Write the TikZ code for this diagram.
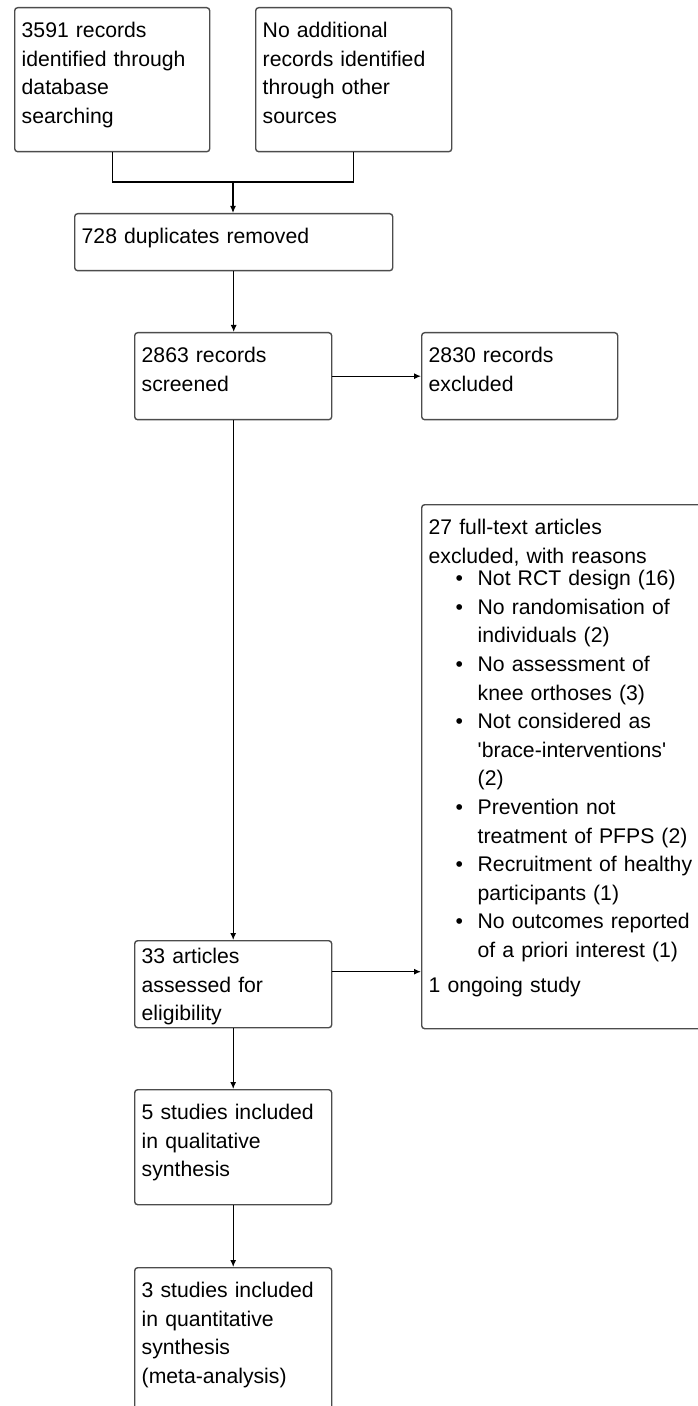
\documentclass[tikz,border=0pt]{standalone}
\usepackage{fontspec}
\setmainfont{Liberation Sans}
\usetikzlibrary{arrows.meta}
\newcommand{\bul}{\makebox[24.5pt][l]{\hspace{13.5pt}\textbullet}}
\newcommand{\ind}{\hspace*{24.5pt}}

\begin{document}
\begin{tikzpicture}[x=0.5pt, y=-0.5pt, >={Latex[length=3.5pt,width=3pt]},
    box/.style={draw=black!70, line width=0.7pt, rounded corners=1.5pt, anchor=north west,
      inner xsep=3.5pt, inner ysep=0pt, align=left, text height=15pt,
      font=\fontsize{10.6pt}{14.3pt}\selectfont},
    link/.style={line width=0.6pt}]
    \useasboundingbox (0,0) rectangle (697,1406);

    \node[box, text width=90.5pt, text depth=57pt] (db) at (14,7) {3591 records\\identified through\\database\\searching};
    \node[box, text width=91pt, text depth=57pt] (other) at (255,7) {No additional\\records identified\\through other\\sources};
    \node[box, text width=152pt, text depth=13.5pt] (dup) at (74,213) {728 duplicates removed};
    \node[box, text width=91.5pt, text depth=28.5pt] (scr) at (134,332) {2863 records\\screened};
    \node[box, text width=91pt, text depth=28.5pt] (excl) at (421,332) {2830 records\\excluded};
    \node[box, text width=143pt, text depth=247pt] (full) at (421,504) {27 full-text articles\\excluded, with reasons\\[-3.1pt]
      \bul Not RCT design (16)\\
      \bul No randomisation of\\
      \ind individuals (2)\\
      \bul No assessment of\\
      \ind knee orthoses (3)\\
      \bul Not considered as\\
      \ind \textquotesingle brace-interventions\textquotesingle\\
      \ind (2)\\
      \bul Prevention not\\
      \ind treatment of PFPS (2)\\
      \bul Recruitment of healthy\\
      \ind participants (1)\\
      \bul No outcomes reported\\
      \ind of a priori interest (1)\\[3.2pt]
      1 ongoing study};
    \node[box, text width=91.5pt, text height=11.5pt, text depth=32pt] (elig) at (134,940) {33 articles\\assessed for\\eligibility};
    \node[box, text width=91.5pt, text depth=42.5pt] (qual) at (134,1089) {5 studies included\\in qualitative\\synthesis};
    \node[box, text width=91.5pt, text depth=65pt] (quant) at (134,1267) {3 studies included\\in quantitative\\synthesis\\(meta-analysis)};

    \coordinate (join) at (233,182);
    \draw[link] (db.south) |- (join) -| (other.south);
    \draw[link,->] (join) -- (join |- dup.north);
    \draw[link,->] (dup.south) -- (dup.south |- scr.north);
    \draw[link,->] (scr) -- (excl);
    \draw[link,->] (scr.south) -- (scr.south |- elig.north);
    \draw[link,->] ([yshift=6.25pt]elig.east) -- ([yshift=6.25pt]elig.east -| full.west);
    \draw[link,->] (elig) -- (qual);
    \draw[link,->] (qual) -- (quant);
\end{tikzpicture}
\end{document}
